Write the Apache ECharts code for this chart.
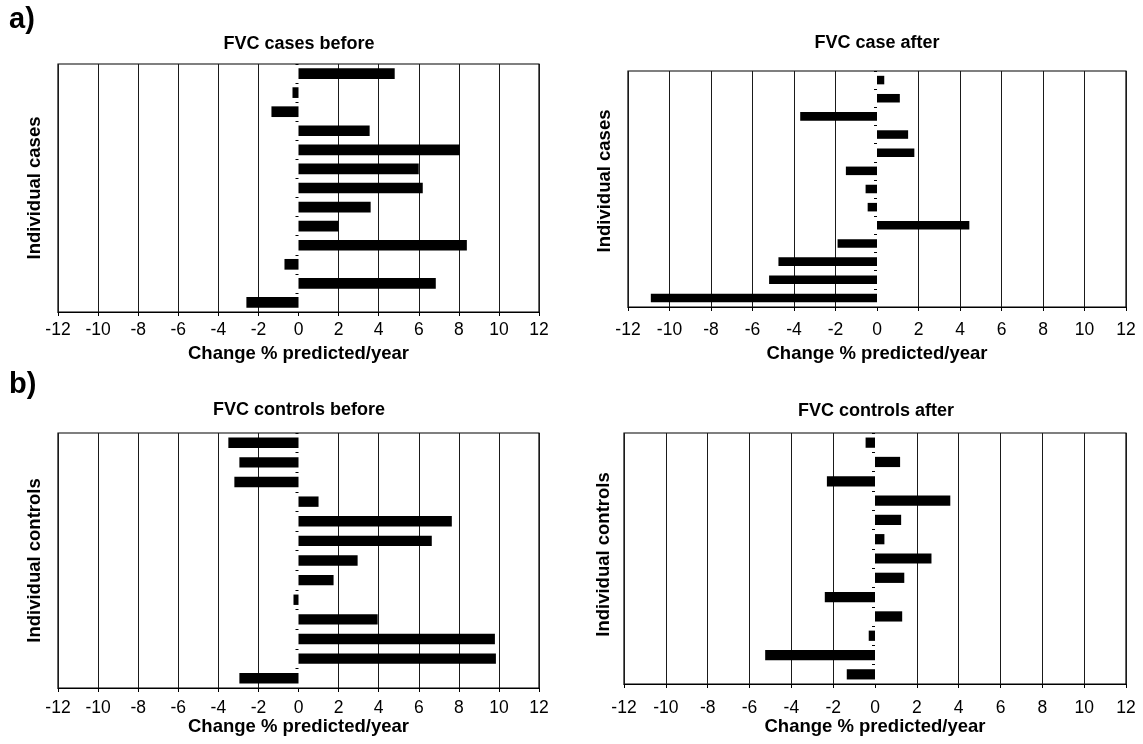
<!DOCTYPE html>
<html>
<head>
<meta charset="utf-8">
<script src="https://cdn.jsdelivr.net/npm/echarts@6/dist/echarts.min.js"></script>
<style>html,body{margin:0;padding:0;background:#fff}#c{width:1143px;height:744px}</style>
</head>
<body>
<div id="c"></div>
<script>
// ---- data ----
const cases = ['1','2','3','4','5','6','7','8','9','10','11','12','13'];
const casesBefore = [4.8, -0.3, -1.35, 3.55, 8.05, 6.0, 6.2, 3.6, 2.0, 8.4, -0.7, 6.85, -2.6];
const casesAfter = [0.35, 1.1, -3.7, 1.5, 1.8, -1.5, -0.55, -0.45, 4.45, -1.9, -4.75, -5.2, -10.9];
const controlsBefore = [-3.5, -2.95, -3.2, 1.0, 7.65, 6.65, 2.95, 1.75, -0.25, 3.95, 9.8, 9.85, -2.95];
const controlsAfter = [-0.45, 1.2, -2.3, 3.6, 1.25, 0.45, 2.7, 1.4, -2.4, 1.3, -0.3, -5.25, -1.35];
const panelTitles = ['FVC cases before', 'FVC case after', 'FVC controls before', 'FVC controls after'];
const yNames = ['Individual cases', 'Individual cases', 'Individual controls', 'Individual controls'];
const xName = 'Change % predicted/year';
const xMin = -12, xMax = 12, xStep = 2;
const partLabels = ['a)', 'b)'];

// ---- layout ----
const F = "'Liberation Sans', Arial, Helvetica, sans-serif";
const series = [casesBefore, casesAfter, controlsBefore, controlsAfter];
const layout = [
  {grid:{left:58, top:64, width:481, height:248}, tx:299, ty:35, lm:9,  ng:32, yg:14, ys:0,  bw:'56%'},
  {grid:{left:628, top:71, width:498, height:236}, tx:877, ty:34, lm:14, ng:37, yg:14, ys:16, bw:'47%'},
  {grid:{left:58, top:433, width:481, height:255}, tx:299, ty:401, lm:11, ng:27, yg:14, ys:0,  bw:'53%'},
  {grid:{left:624, top:433, width:502, height:251}, tx:876, ty:402, lm:15, ng:31, yg:11, ys:8,  bw:'53%'}
];
const splitColors = [];
for (let v = xMin; v <= xMax; v += xStep) splitColors.push(v === 0 ? 'rgba(0,0,0,0)' : '#1a1a1a');

const option = {
  animation: false,
  backgroundColor: '#fff',
  textStyle: {fontFamily: F},
  title: [
    {text: partLabels[0], left: 9, top: 5, padding: 0, textAlign: 'left', textVerticalAlign: 'top',
     textStyle: {fontFamily: F, fontSize: 29, fontWeight: 'bold', color: '#000'}},
    {text: partLabels[1], left: 9, top: 370, padding: 0, textAlign: 'left', textVerticalAlign: 'top',
     textStyle: {fontFamily: F, fontSize: 29, fontWeight: 'bold', color: '#000'}}
  ].concat(layout.map((l, i) => ({
    text: panelTitles[i], left: l.tx, top: l.ty, padding: 0, textAlign: 'center', textVerticalAlign: 'top',
    textStyle: {fontFamily: F, fontSize: 18, fontWeight: 'bold', color: '#000'}
  }))),
  grid: layout.map(l => Object.assign({show: true, borderColor: '#000', borderWidth: 1.2, backgroundColor: 'transparent', containLabel: false}, l.grid)),
  xAxis: layout.map((l, i) => ({
    type: 'value', gridIndex: i, min: xMin, max: xMax, interval: xStep,
    name: xName, nameLocation: 'middle', nameGap: l.ng,
    nameTextStyle: {fontFamily: F, fontSize: 18.5, fontWeight: 'bold', color: '#000'},
    axisLine: {show: true, onZero: false, lineStyle: {color: '#000', width: 1.2}},
    axisTick: {show: true, inside: false, length: 4, lineStyle: {color: '#000', width: 1}},
    axisLabel: {show: true, margin: l.lm, fontFamily: F, fontSize: 17.5, color: '#000'},
    splitLine: {show: true, lineStyle: {color: splitColors, width: 1}}
  })),
  yAxis: [].concat(...layout.map((l, i) => [
    {
      type: 'category', gridIndex: i, data: cases, inverse: true, position: 'left',
      name: yNames[i], nameLocation: 'middle', nameGap: l.yg, nameRotate: 90,
      nameTextStyle: {fontFamily: F, fontSize: 18.5, fontWeight: 'bold', color: '#000', padding: [0, 0, 0, l.ys]},
      axisLine: {show: false, onZero: false}, axisTick: {show: false}, axisLabel: {show: false}, splitLine: {show: false}
    },
    {
      type: 'category', gridIndex: i, data: cases, inverse: true, position: 'left',
      axisLine: {show: true, onZero: true, lineStyle: {color: '#000', opacity: 0}},
      axisTick: {show: true, inside: false, length: 3, lineStyle: {color: '#000', width: 1, opacity: 1}},
      axisLabel: {show: false}, splitLine: {show: false}
    }
  ])),
  series: layout.map((l, i) => ({
    type: 'bar', xAxisIndex: i, yAxisIndex: 2 * i + 1, data: series[i], barWidth: l.bw,
    itemStyle: {color: '#000'}, silent: true
  }))
};
const chart = echarts.init(document.getElementById('c'), null, {renderer: 'canvas'});
chart.setOption(option);
</script>
</body>
</html>
